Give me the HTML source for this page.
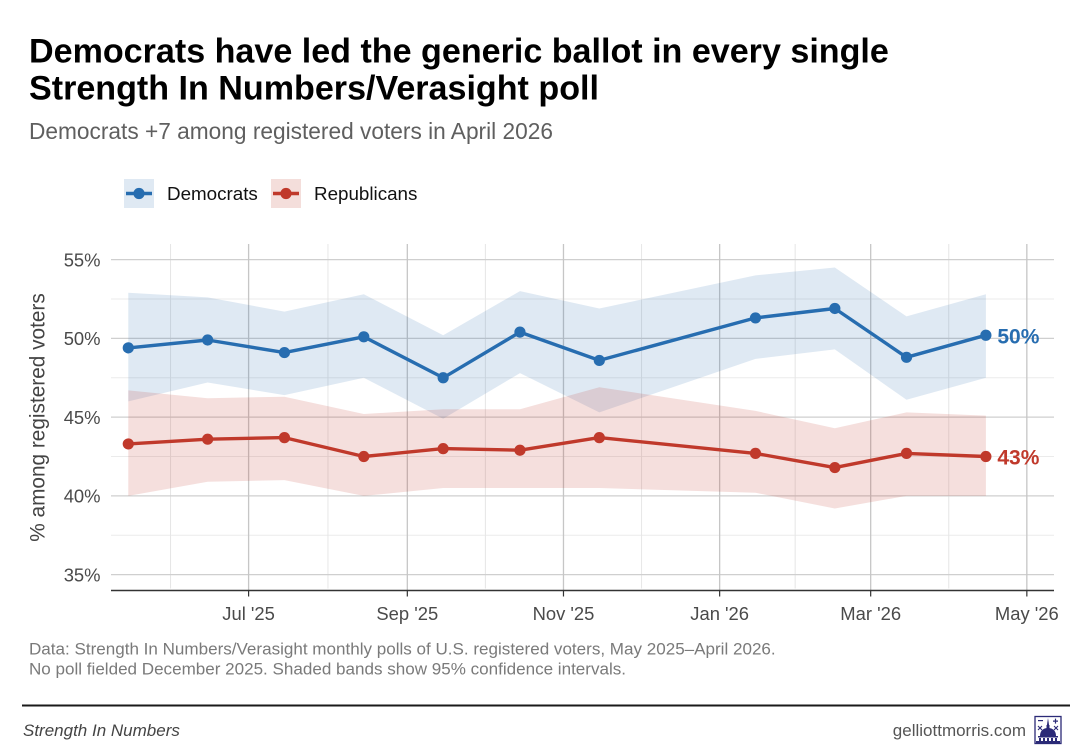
<!DOCTYPE html>
<html lang="en">
<head>
<meta charset="utf-8">
<title>Democrats have led the generic ballot</title>
<style>
html,body{margin:0;padding:0;background:#fff;width:1092px;height:750px;overflow:hidden}
svg{display:block;font-family:"Liberation Sans",Arial,sans-serif}
</style>
</head>
<body>
<svg id="chart" width="1092" height="750" viewBox="0 0 1092 750" xmlns="http://www.w3.org/2000/svg">
  <rect width="1092" height="750" fill="#fff"/>
  <text x="29" y="62.500" font-size="34.080" font-weight="700" fill="#000">Democrats have led the generic ballot in every single</text>
  <text x="29" y="99.500" font-size="34.080" font-weight="700" fill="#000">Strength In Numbers/Verasight poll</text>
  <text x="29" y="139" font-size="22.700" fill="#5f5f5f">Democrats +7 among registered voters in April 2026</text>

  <g>
    <g>
      <rect x="124" y="179" width="30" height="29" fill="#276db0" fill-opacity="0.15"/>
      <line x1="126" x2="152" y1="193.500" y2="193.500" stroke="#276db0" stroke-width="3.400"/>
      <circle cx="139" cy="193.500" r="5.600" fill="#276db0"/>
      <text x="167" y="200" font-size="18.800" fill="#111">Democrats</text>
    </g>
    <g>
      <rect x="271" y="179" width="30" height="29" fill="#c0392b" fill-opacity="0.17"/>
      <line x1="273" x2="299" y1="193.500" y2="193.500" stroke="#c0392b" stroke-width="3.400"/>
      <circle cx="286" cy="193.500" r="5.600" fill="#c0392b"/>
      <text x="314" y="200" font-size="18.800" fill="#111">Republicans</text>
    </g>
  </g>

  <g id="grid"></g>
  <g id="bands"></g>
  <g id="series"></g>
  <g id="axes"></g>

  <text transform="translate(44.500 417.500) rotate(-90)" text-anchor="middle" font-size="20.800" fill="#444">% among registered voters</text>

  <text x="29" y="654.500" font-size="17.060" fill="#7a7a7a">Data: Strength In Numbers/Verasight monthly polls of U.S. registered voters, May 2025–April 2026.</text>
  <text x="29" y="674.500" font-size="17.060" fill="#7a7a7a">No poll fielded December 2025. Shaded bands show 95% confidence intervals.</text>

  <line x1="22" x2="1070" y1="705.500" y2="705.500" stroke="#1a1a1a" stroke-width="2"/>
  <text x="23" y="736" font-size="17" font-style="italic" fill="#444">Strength In Numbers</text>
  <text x="1026" y="736" text-anchor="end" font-size="17" fill="#555">gelliottmorris.com</text>

  <g fill="#2b2a77" stroke="none">
    <rect x="1035" y="716.500" width="26" height="27" fill="#fff" stroke="#2b2a77" stroke-width="1.300"/>
    <path d="M1048 718l1.200 8h-2.400z"/>
    <rect x="1046.500" y="725" width="3" height="4"/>
    <path d="M1040 736c0-5 3-8 8-8s8 3 8 8z"/>
    <rect x="1038" y="736" width="20" height="1.500"/>
    <path d="M1039 738h2v3h-2zM1043 738h2v3h-2zM1047 738h2v3h-2zM1051 738h2v3h-2zM1055 738h2v3h-2z"/>
    <rect x="1036" y="741" width="24" height="2.500"/>
    <rect x="1038" y="720" width="5" height="1.200"/>
    <path d="M1053 720.500h5v1.200h-5zM1054.900 718.600h1.200v5h-1.200z"/>
    <path d="M1038 726l4 4M1042 726l-4 4M1054 726l4 4M1058 726l-4 4" stroke="#2b2a77" stroke-width="1.100" fill="none"/>
  </g>
</svg>
<script>
// ---- chart data ----
var pollDates = ['2025-05-15','2025-06-15','2025-07-15','2025-08-15','2025-09-15','2025-10-15','2025-11-15','2026-01-15','2026-02-15','2026-03-15','2026-04-15'];
var demValues = [49.4,49.9,49.1,50.1,47.5,50.4,48.6,51.3,51.9,48.8,50.2];
var demUpper  = [52.9,52.6,51.7,52.8,50.2,53.0,51.9,54.0,54.5,51.4,52.8];
var demLower  = [46.0,47.2,46.4,47.5,44.9,47.8,45.3,48.7,49.3,46.1,47.5];
var repValues = [43.3,43.6,43.7,42.5,43.0,42.9,43.7,42.7,41.8,42.7,42.5];
var repUpper  = [46.7,46.2,46.3,45.2,45.5,45.5,46.9,45.4,44.3,45.3,45.1];
var repLower  = [40.0,40.9,41.0,40.0,40.5,40.5,40.5,40.2,39.2,40.0,40.0];
var yMajorTicks = [35,40,45,50,55];
var yMinorTicks = [37.5,42.5,47.5,52.5];
var xMajorDates = ['2025-07-01','2025-09-01','2025-11-01','2026-01-01','2026-03-01','2026-05-01'];
var xMajorLabels = ["Jul '25","Sep '25","Nov '25","Jan '26","Mar '26","May '26"];
var xBreakStart = '2025-05-01';
var demEndLabel = '50%';
var repEndLabel = '43%';

// ---- axis functions ----
var PANEL = {left:111, right:1054, top:244, bottom:590.5};
function xScale(d){
  var days = (Date.parse(d + 'T00:00:00Z') - Date.parse('2025-07-01T00:00:00Z')) / 86400000;
  return 248.6 + days * 2.56;
}
function yScale(v){ return 338.4 - (v - 50) * 15.75; }

var NS = 'http://www.w3.org/2000/svg';
function mk(tag, parent, attrs){
  var el = document.createElementNS(NS, tag);
  for (var k in attrs) el.setAttribute(k, attrs[k]);
  parent.appendChild(el);
  return el;
}
var gridG = document.getElementById('grid');
var bandsG = document.getElementById('bands');
var seriesG = document.getElementById('series');
var axesG = document.getElementById('axes');

yMinorTicks.forEach(function(t){
  var el = mk('line', gridG, {x1:PANEL.left, x2:PANEL.right, y1:yScale(t), y2:yScale(t), stroke:'#ebebeb', 'stroke-width':1});
  
  
});
// minor x gridlines sit midway between neighbouring major breaks
[xBreakStart].concat(xMajorDates).forEach(function(d, i, all){
  if (i === all.length - 1) return;
  var mx = (xScale(d) + xScale(all[i + 1])) / 2;
  var el = mk('line', gridG, {x1:mx, x2:mx, y1:PANEL.top, y2:PANEL.bottom - 2, stroke:'#e6e6e6', 'stroke-width':1});
  
  
});
yMajorTicks.forEach(function(t){
  var el = mk('line', gridG, {x1:PANEL.left, x2:PANEL.right, y1:yScale(t), y2:yScale(t), stroke:'#cfcfcf', 'stroke-width':1.3});
  
  
});
xMajorDates.forEach(function(d){
  var el = mk('line', gridG, {x1:xScale(d), x2:xScale(d), y1:PANEL.top, y2:PANEL.bottom, stroke:'#c6c6c6', 'stroke-width':1.3});
  
  
});

function bandPath(upper, lower){
  var top = pollDates.map(function(d,i){ return xScale(d).toFixed(1) + ',' + yScale(upper[i]).toFixed(1); });
  var bot = pollDates.map(function(d,i){ return xScale(d).toFixed(1) + ',' + yScale(lower[i]).toFixed(1); }).reverse();
  return 'M' + top.concat(bot).join('L') + 'Z';
}
var demBand = mk('path', bandsG, {d:bandPath(demUpper, demLower), fill:'#276db0', 'fill-opacity':0.15});


var repBand = mk('path', bandsG, {d:bandPath(repUpper, repLower), fill:'#c0392b', 'fill-opacity':0.16});



function linePoints(vals){
  return pollDates.map(function(d,i){ return xScale(d).toFixed(1) + ',' + yScale(vals[i]).toFixed(1); }).join(' ');
}
var demLine = mk('polyline', seriesG, {points:linePoints(demValues), fill:'none', stroke:'#276db0', 'stroke-width':3.4, 'stroke-linejoin':'round'});


var repLine = mk('polyline', seriesG, {points:linePoints(repValues), fill:'none', stroke:'#c0392b', 'stroke-width':3.4, 'stroke-linejoin':'round'});



pollDates.forEach(function(d,i){
  var c = mk('circle', seriesG, {cx:xScale(d), cy:yScale(demValues[i]), r:5.6, fill:'#276db0'});
  
  
});
pollDates.forEach(function(d,i){
  var c = mk('circle', seriesG, {cx:xScale(d), cy:yScale(repValues[i]), r:5.6, fill:'#c0392b'});
  
  
});

var lastI = pollDates.length - 1;
var demEnd = mk('text', seriesG, {x:xScale(pollDates[lastI]) + 11.5, y:yScale(demValues[lastI]) + 8, 'font-size':21, 'font-weight':700, fill:'#276db0'});
demEnd.textContent = demEndLabel;


var repEnd = mk('text', seriesG, {x:xScale(pollDates[lastI]) + 11.5, y:yScale(repValues[lastI]) + 8, 'font-size':21, 'font-weight':700, fill:'#c0392b'});
repEnd.textContent = repEndLabel;



var axisLine = mk('line', axesG, {x1:PANEL.left, x2:PANEL.right, y1:PANEL.bottom, y2:PANEL.bottom, stroke:'#333', 'stroke-width':1.6});



xMajorDates.forEach(function(d,i){
  var tick = mk('line', axesG, {x1:xScale(d), x2:xScale(d), y1:PANEL.bottom, y2:PANEL.bottom + 6, stroke:'#333', 'stroke-width':1.2});
  
  
  var lab = mk('text', axesG, {x:xScale(d), y:620, 'text-anchor':'middle', 'font-size':18.4, fill:'#4a4a4a'});
  lab.textContent = xMajorLabels[i];
  
  
});
yMajorTicks.forEach(function(t){
  var lab = mk('text', axesG, {x:100.5, y:yScale(t) + 6.8, 'text-anchor':'end', 'font-size':18.4, fill:'#4a4a4a'});
  lab.textContent = t + '%';
  
  
});
</script>
</body>
</html>
